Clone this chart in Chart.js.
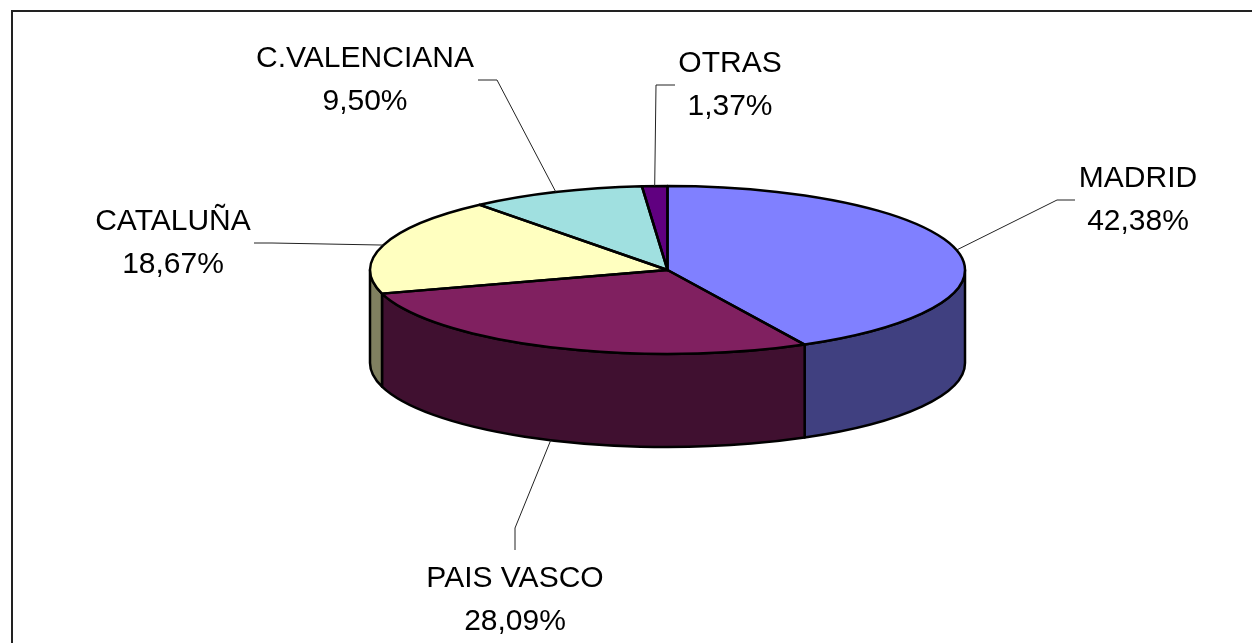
<!DOCTYPE html>
<html>
<head>
<meta charset="utf-8">
<script src="https://cdn.jsdelivr.net/npm/chart.js@4/dist/chart.umd.min.js"></script>
<style>
  html, body { margin: 0; padding: 0; background: #ffffff; }
  canvas { display: block; }
</style>
</head>
<body>
<canvas id="c" width="1252" height="643"></canvas>
<script>
// ---- data ----
const CATEGORIES = ['MADRID', 'PAIS VASCO', 'CATALUÑA', 'C.VALENCIANA', 'OTRAS'];
const SHARES = [42.38, 28.09, 18.67, 9.50, 1.37];

// ---- style ----
const TOP_COLORS = ['#8080FF', '#802060', '#FFFFC0', '#A0E0E0', '#600080'];
const GEOM = { cx: 667.5, cy: 270, rx: 297.5, ry: 84, depth: 93 };
const OUTLINE_W = 2.5;
const FONT = '30px "Liberation Sans", Arial, sans-serif';
const LINE_GAP = 43;
// label layout: text centre x, first baseline, elbow point, end point of leader
const LABEL_LAYOUT = [
  { tx: 1138, ty: 187, elbow: [1057, 200], end: [1075, 200] },
  { tx: 515,  ty: 587, elbow: [515, 528],  end: [515, 550] },
  { tx: 173,  ty: 230, elbow: [272, 243],  end: [254, 243] },
  { tx: 365,  ty: 67,  elbow: [497, 80],   end: [478, 80] },
  { tx: 730,  ty: 72,  elbow: [656, 85],   end: [675, 85] }
];

function halfColor(hex) {
  const n = parseInt(hex.slice(1), 16);
  const r = (n >> 16) & 255, g = (n >> 8) & 255, b = n & 255;
  return 'rgb(' + Math.round(r / 2) + ',' + Math.round(g / 2) + ',' + Math.round(b / 2) + ')';
}
function fmtPct(v) { return v.toFixed(2).replace('.', ',') + '%'; }

const TWO_PI = Math.PI * 2;
function normAngles(s, e) {
  while (s < -Math.PI / 2 - 1e-9) { s += TWO_PI; e += TWO_PI; }
  while (s >= 1.5 * Math.PI) { s -= TWO_PI; e -= TWO_PI; }
  return [s, e];
}

const pie3d = {
  id: 'pie3d',
  beforeDraw(chart) {
    const ctx = chart.ctx;
    ctx.save();
    ctx.strokeStyle = '#222';
    ctx.lineWidth = 2;
    ctx.strokeRect(12, 11, 1400, 800);
    ctx.restore();
  },
  beforeDatasetsDraw(chart) {
    const ctx = chart.ctx;
    const meta = chart.getDatasetMeta(0);
    const { cx, cy, rx, ry, depth } = GEOM;
    // side walls (front half only)
    meta.data.forEach((arc, i) => {
      let [s, e] = normAngles(arc.startAngle, arc.endAngle);
      const a0 = Math.max(s, 0), a1 = Math.min(e, Math.PI);
      if (a1 <= a0) return;
      ctx.save();
      ctx.beginPath();
      ctx.ellipse(cx, cy, rx, ry, 0, a0, a1, false);
      ctx.lineTo(cx + rx * Math.cos(a1), cy + depth + ry * Math.sin(a1));
      ctx.ellipse(cx, cy + depth, rx, ry, 0, a1, a0, true);
      ctx.closePath();
      ctx.fillStyle = halfColor(TOP_COLORS[i]);
      ctx.fill();
      ctx.lineWidth = OUTLINE_W;
      ctx.lineJoin = 'round';
      ctx.strokeStyle = '#000';
      ctx.stroke();
      ctx.restore();
    });
    // squash Chart.js' circular pie into the top ellipse
    const a = meta.data[0];
    const R = a.outerRadius;
    ctx.save();
    ctx.translate(cx, cy);
    ctx.scale(rx / R, ry / R);
    ctx.translate(-a.x, -a.y);
  },
  afterDatasetsDraw(chart) {
    const ctx = chart.ctx;
    ctx.restore();
    const meta = chart.getDatasetMeta(0);
    const { cx, cy, rx, ry, depth } = GEOM;
    // top outlines
    ctx.save();
    ctx.lineWidth = OUTLINE_W;
    ctx.lineJoin = 'round';
    ctx.strokeStyle = '#000';
    meta.data.forEach((arc) => {
      ctx.beginPath();
      ctx.moveTo(cx, cy);
      ctx.ellipse(cx, cy, rx, ry, 0, arc.startAngle, arc.endAngle, false);
      ctx.closePath();
      ctx.stroke();
    });
    ctx.restore();
    // labels with leader lines
    ctx.save();
    meta.data.forEach((arc, i) => {
      const L = LABEL_LAYOUT[i];
      const m = (arc.startAngle + arc.endAngle) / 2;
      const px = cx + rx * Math.cos(m);
      const py = cy + ry * Math.sin(m) + (Math.sin(m) > 0 ? depth : 0);
      ctx.beginPath();
      ctx.moveTo(px, py);
      ctx.lineTo(L.elbow[0], L.elbow[1]);
      ctx.lineTo(L.end[0], L.end[1]);
      ctx.strokeStyle = '#222';
      ctx.lineWidth = 1;
      ctx.stroke();
      ctx.fillStyle = '#000';
      ctx.font = FONT;
      ctx.textAlign = 'center';
      ctx.textBaseline = 'alphabetic';
      ctx.fillText(chart.data.labels[i], L.tx, L.ty);
      ctx.fillText(fmtPct(chart.data.datasets[0].data[i]), L.tx, L.ty + LINE_GAP);
    });
    ctx.restore();
  }
};

new Chart(document.getElementById('c'), {
  type: 'pie',
  data: {
    labels: CATEGORIES,
    datasets: [{
      data: SHARES,
      backgroundColor: TOP_COLORS,
      borderWidth: 0,
      clip: false
    }]
  },
  options: {
    responsive: false,
    animation: false,
    events: [],
    layout: { padding: 0 },
    plugins: {
      legend: { display: false },
      tooltip: { enabled: false }
    }
  },
  plugins: [pie3d]
});
</script>
</body>
</html>
